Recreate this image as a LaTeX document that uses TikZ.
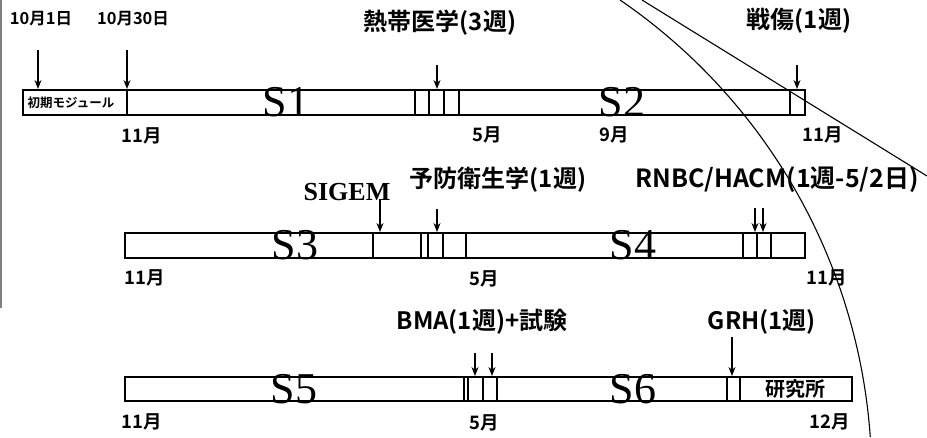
\documentclass[tikz,border=0pt]{standalone}
\usepackage{fontspec}
\setmainfont{Liberation Serif}
\newfontfamily\jp{Noto Sans CJK JP}[BoldFont={Noto Sans CJK JP Bold}]
\usetikzlibrary{arrows.meta}

\tikzset{
  bar/.style={-, line width=1.3pt},
  thickbar/.style={-, line width=2.2pt},
  note/.style={font=\jp\bfseries\fontsize{24}{24}\selectfont},
  date/.style={font=\jp\bfseries\fontsize{16.5}{16.5}\selectfont},
  month/.style={font=\jp\bfseries\fontsize{18.5}{18.5}\selectfont},
  inbox/.style={font=\jp\bfseries\fontsize{#1}{#1}\selectfont},
  sem/.style={font=\fontsize{44}{44}\selectfont},
  guide/.style={-, line width=1.1pt}
}

\begin{document}
\begin{tikzpicture}[->, >={Stealth[length=9pt, width=7pt]}, x=1pt, y=-1pt, line width=1.3pt]
		\useasboundingbox (0, 0) rectangle (927, 437);
		\draw[-, gray, line width=1.5pt] (1, 0) -- (1, 308);

		% S1 / S2
		\draw[bar] (23, 90) rectangle (805, 115);
		\foreach \x in {127, 415, 429, 790}
			\draw[bar] (\x, 90) -- (\x, 115);
		\foreach \x in {444, 459}
			\draw[thickbar] (\x, 90) -- (\x, 115);
		\node[inbox=12.5] (init) at (71, 103) {初期モジュール};
		\node[sem] (s1) at (286, 102) {S1};
		\node[sem] (s2) at (622, 102) {S2};

		\node[date] (d1) at (41, 19) {10月1日};
		\node[date] (d30) at (133, 19) {10月30日};
		\node[note] (trop) at (440, 23) {熱帯医学(3週)};
		\node[note] (war) at (799, 21) {戦傷(1週)};
		\node[month] (m1a) at (142, 136) {11月};
		\node[month] (m1b) at (487, 135) {5月};
		\node[month] (m1c) at (614, 135) {9月};
		\node[month] (m1d) at (823, 135) {11月};

		\coordinate (t1) at (38, 50);  \coordinate (h1) at (38, 89);
		\coordinate (t2) at (127, 50); \coordinate (h2) at (127, 89);
		\coordinate (t3) at (437, 65); \coordinate (h3) at (437, 89);
		\coordinate (t4) at (797, 65); \coordinate (h4) at (797, 89);

		% S3 / S4
		\draw[bar] (125, 233) rectangle (805, 258);
		\foreach \x in {373, 421, 428, 443, 466, 743, 757, 771}
			\draw[bar] (\x, 233) -- (\x, 258);
		\node[sem] (s3) at (295, 245) {S3};
		\node[sem] (s4) at (633, 245) {S4};

		\node[font=\bfseries\fontsize{26}{26}\selectfont] (sigem) at (347, 192) {SIGEM};
		\node[note] (prev) at (498, 180) {予防衛生学(1週)};
		\node[note, font=\jp\bfseries\fontsize{25}{25}\selectfont] (rnbc) at (777, 180) {RNBC/HACM(1週-5/2日)};
		\node[month] (m2a) at (145, 278) {11月};
		\node[month] (m2b) at (484, 279) {5月};
		\node[month] (m2c) at (827, 278) {11月};

		\coordinate (t5) at (380, 199); \coordinate (h5) at (380, 232);
		\coordinate (t6) at (437, 209); \coordinate (h6) at (437, 232);
		\coordinate (t7) at (755, 208); \coordinate (h7) at (755, 232);
		\coordinate (t8) at (763, 208); \coordinate (h8) at (763, 232);

		% S5 / S6
		\draw[bar] (125, 377) rectangle (852, 401);
		\foreach \x in {464, 468, 483, 497, 727, 740}
			\draw[bar] (\x, 377) -- (\x, 401);
		\node[sem] (s5) at (294, 389) {S5};
		\node[sem] (s6) at (633, 389) {S6};
		\node[inbox=20] (lab) at (795, 389) {研究所};

		\node[note] (bma) at (482, 322) {BMA(1週)+試験};
		\node[note] (grh) at (762, 322) {GRH(1週)};
		\node[month] (m3a) at (142, 422) {11月};
		\node[month] (m3b) at (484, 423) {5月};
		\node[month] (m3c) at (830, 422) {12月};

		\coordinate (t9) at (475, 353);  \coordinate (h9) at (475, 376);
		\coordinate (t10) at (492, 353); \coordinate (h10) at (492, 376);
		\coordinate (t11) at (732, 337); \coordinate (h11) at (732, 376);

		\foreach \i in {1,...,11}
			\draw (t\i) -- (h\i);

		% sweep lines
		\draw[guide] (642, 0) -- (927, 176);
		\draw[guide, domain=-55.6:-4, samples=60, smooth, variable=\t]
			plot ({293.2 + 578.5*cos(\t)}, {477.3 + 578.5*sin(\t)});
	\end{tikzpicture}
\end{document}
